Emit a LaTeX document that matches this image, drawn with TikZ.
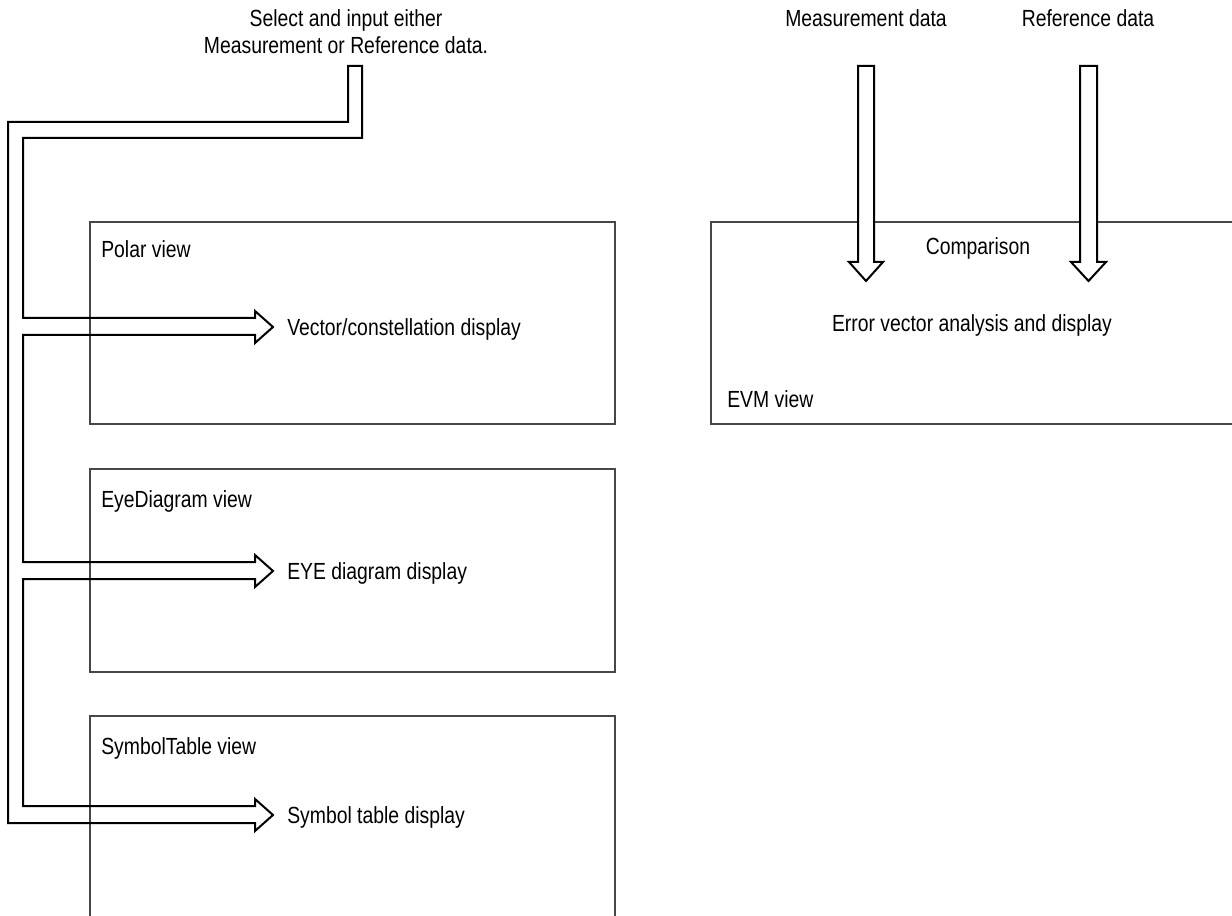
\documentclass[tikz,border=0pt]{standalone}
\usepackage{fontspec}
\setmainfont{Liberation Sans}[FakeStretch=0.83]
\begin{document}
\begin{tikzpicture}[x=0.75pt,y=-0.75pt,
 box/.style={draw=black!72,line width=0.9pt},
 hollow/.style={draw=black,line width=1.5pt,line join=miter},
 lbl/.style={inner sep=0pt,font=\fontsize{17.5}{24}\selectfont}]
\useasboundingbox (0,0) rectangle (1232,916);
% view boxes
\draw[box] (90,222) rectangle (615,424);
\draw[box] (90,469) rectangle (615,672);
\draw[box] (90,917) -- (90,716) -- (615,716) -- (615,917);
\draw[box] (1234,222) -- (711,222) -- (711,424) -- (1234,424);
% hollow branching arrow (left)
\draw[hollow] (255,823) -- (8,823) -- (8,122) -- (348,122) -- (348,66) -- (362,66)
  -- (362,138) -- (23,138) -- (23,318) -- (255,318) -- (255,311) -- (273,327)
  -- (255,343) -- (255,335) -- (23,335) -- (23,562) -- (255,562) -- (255,555)
  -- (273,571) -- (255,587) -- (255,579) -- (23,579) -- (23,806) -- (255,806)
  -- (255,799) -- (273,815) -- (255,831) -- cycle;
% vertical hollow arrows
\draw[hollow,fill=white] (858,66) -- (874,66) -- (874,262) -- (883,262) -- (866,281)
  -- (849,262) -- (858,262) -- cycle;
\draw[hollow,fill=white] (1080,66) -- (1097,66) -- (1097,262) -- (1106,262) -- (1088.5,281)
  -- (1071,262) -- (1080,262) -- cycle;
% labels
\node[lbl,anchor=base] (sel1) at (346,27) {Select and input either};
\node[lbl,anchor=base] (sel2) at (346,54) {Measurement or Reference data.};
\node[lbl,anchor=base] (meas) at (866,27) {Measurement data};
\node[lbl,anchor=base] (ref) at (1088,27) {Reference data};
\node[lbl,anchor=base] (cmp) at (978,255) {Comparison};
\node[lbl,anchor=base] (err) at (972,332) {Error vector analysis and display};
\node[lbl,anchor=base west] (evm) at (727,407) {EVM view};
\node[lbl,anchor=base west] (polar) at (101,258) {Polar view};
\node[lbl,anchor=base west] (vec) at (287,335) {Vector/constellation display};
\node[lbl,anchor=base west] (eyev) at (101,507) {EyeDiagram view};
\node[lbl,anchor=base west] (eyed) at (287,579) {EYE diagram display};
\node[lbl,anchor=base west] (symv) at (101,754) {SymbolTable view};
\node[lbl,anchor=base west] (symd) at (287,823) {Symbol table display};
\end{tikzpicture}
\end{document}
